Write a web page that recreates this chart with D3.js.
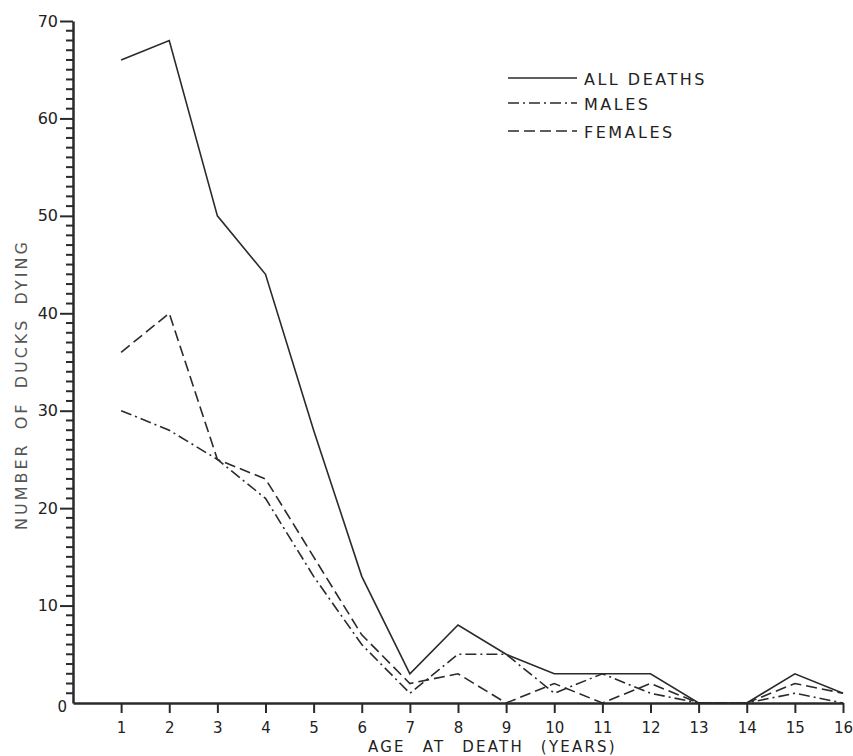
<!DOCTYPE html>
<html>
<head>
<meta charset="utf-8">
<script src="https://cdn.jsdelivr.net/npm/d3@7"></script>
<style>
  html, body { margin: 0; padding: 0; background: #fff; }
  svg { display: block; }
  text { font-family: "DejaVu Sans", sans-serif; fill: #222; }
</style>
</head>
<body>
<svg id="chart" width="853" height="756"></svg>
<script>
// ---- data ----
const ages = [1, 2, 3, 4, 5, 6, 7, 8, 9, 10, 11, 12, 13, 14, 15, 16];
const allDeaths = [66, 68, 50, 44, 28, 13, 3, 8, 5, 3, 3, 3, 0, 0, 3, 1];
const males     = [30, 28, 25, 21, 13, 6, 1, 5, 5, 1, 3, 1, 0, 0, 1, 0];
const females   = [36, 40, 25, 23, 15, 7, 2, 3, 0, 2, 0, 2, 0, 0, 2, 1];
const seriesNames = ["ALL DEATHS", "MALES", "FEMALES"];
const yMajorTicks = [10, 20, 30, 40, 50, 60, 70];
const yMinorTicks = d3.range(1, 70).filter(v => v % 10 !== 0);
const xTitle = "AGE AT DEATH (YEARS)";
const yTitle = "NUMBER OF DUCKS DYING";

// ---- drawing ----
const svg = d3.select("#chart");
const x = d3.scaleLinear().domain([0, 16]).range([73, 843]);
const y = d3.scaleLinear().domain([0, 70]).range([703, 21]);

const ink = "#2a2a2a";
const styles = [
  { dash: null },
  { dash: "11,4,2,4" },
  { dash: "11,5" }
];
const seriesData = [allDeaths, males, females];

// Y axis minor ticks (ruler)
svg.append("g").attr("class", "minor-ticks")
  .selectAll("rect")
  .data(yMinorTicks)
  .join("rect")
  .attr("x", x(0) - 7).attr("width", 7)
  .attr("y", d => y(d) - 1).attr("height", 2)
  .attr("fill", ink);

// Y axis major ticks + labels
const yMajor = svg.append("g").attr("transform", `translate(${x(0)},0)`)
  .call(d3.axisLeft(y).tickValues(yMajorTicks).tickSize(13).tickSizeOuter(0).tickPadding(2).tickFormat(d3.format("d")));
yMajor.select(".domain").attr("stroke", ink).attr("stroke-width", 2.5);
yMajor.selectAll(".tick line").attr("stroke", ink).attr("stroke-width", 2);
yMajor.selectAll(".tick text").attr("font-size", 16).attr("fill", "#222")
  .style("font-family", "DejaVu Sans, sans-serif");

// "0" label at origin
svg.append("text").attr("x", x(0) - 6).attr("y", y(0) + 9)
  .attr("text-anchor", "end").attr("font-size", 15).text("0");

// X axis
const xAxis = svg.append("g").attr("transform", `translate(0,${y(0)})`)
  .call(d3.axisBottom(x).tickValues(ages).tickSize(10).tickSizeOuter(0).tickFormat(d3.format("d")));
xAxis.select(".domain").attr("stroke", ink).attr("stroke-width", 2.5);
xAxis.selectAll(".tick line").attr("stroke", ink).attr("stroke-width", 2);
xAxis.selectAll(".tick text").attr("font-size", 15).attr("y", 30).attr("dy", 0)
  .attr("fill", "#222").style("font-family", "DejaVu Sans, sans-serif");

// Series lines
const line = d3.line().x((d, i) => x(ages[i])).y(d => y(d));
seriesData.forEach((s, k) => {
  svg.append("path").datum(s)
    .attr("d", line)
    .attr("fill", "none")
    .attr("stroke", ink)
    .attr("stroke-width", 1.6)
    .attr("stroke-linejoin", "miter")
    .attr("stroke-dasharray", styles[k].dash);
});

// Legend
const legY = [78, 103, 131];
seriesNames.forEach((name, k) => {
  svg.append("line")
    .attr("x1", 508).attr("x2", 577).attr("y1", legY[k]).attr("y2", legY[k])
    .attr("stroke", ink).attr("stroke-width", 1.6)
    .attr("stroke-dasharray", styles[k].dash);
  svg.append("text")
    .attr("x", 584).attr("y", legY[k] + 7)
    .attr("font-size", 16).attr("letter-spacing", 2.5)
    .text(name);
});

// Axis titles
svg.append("text")
  .attr("x", 368).attr("y", 752)
  .attr("font-size", 15).attr("letter-spacing", 2.2).attr("word-spacing", 10)
  .text(xTitle);

svg.append("text")
  .attr("transform", "translate(27,530) rotate(-90)")
  .attr("font-size", 16).attr("letter-spacing", 3).attr("word-spacing", 5)
  .attr("fill", "#555").style("fill", "#555")
  .text(yTitle);
</script>
</body>
</html>
